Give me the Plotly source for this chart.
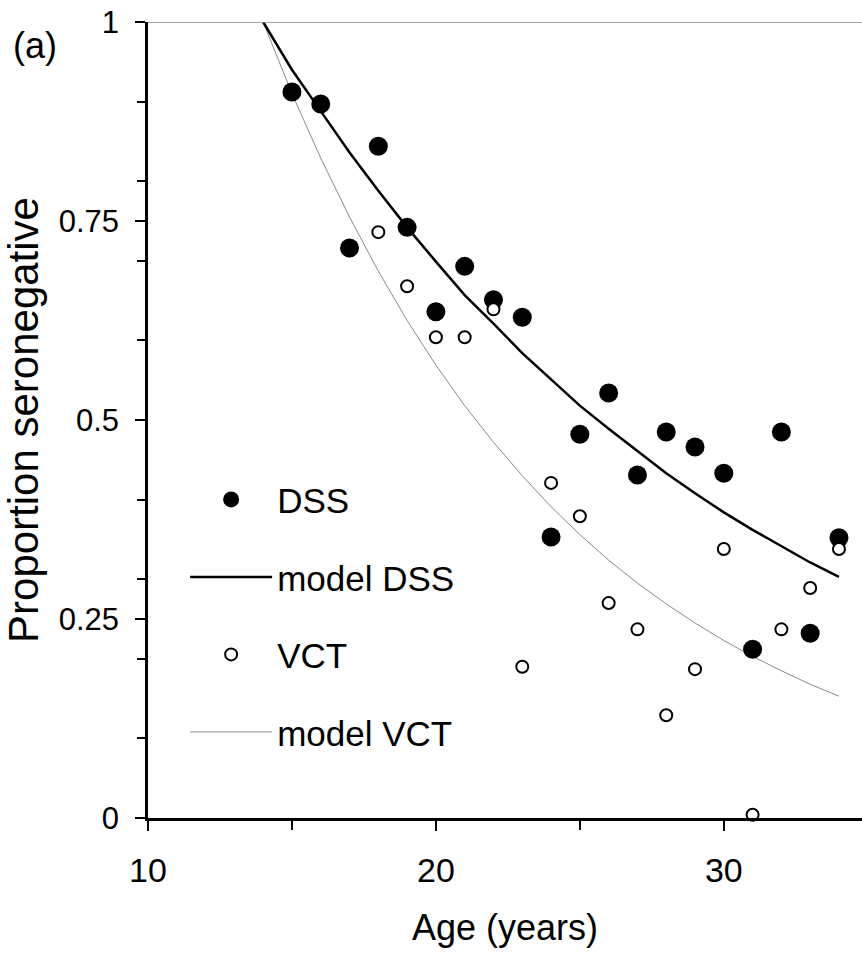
import plotly.graph_objects as go

# Observed data
dss_age = [15, 16, 17, 18, 19, 20, 21, 22, 23, 24, 25, 26, 27, 28, 29, 30, 31, 32, 33, 34]
dss_prop = [0.912, 0.897, 0.716, 0.844, 0.742, 0.636, 0.693, 0.651, 0.629, 0.353,
            0.482, 0.534, 0.431, 0.485, 0.466, 0.433, 0.212, 0.485, 0.232, 0.352]

vct_age = [18, 19, 20, 21, 22, 23, 24, 25, 26, 27, 28, 29, 30, 31, 32, 33, 34]
vct_prop = [0.736, 0.668, 0.604, 0.604, 0.639, 0.190, 0.421, 0.379, 0.270, 0.237,
            0.129, 0.187, 0.338, 0.004, 0.237, 0.289, 0.338]

# Model curves (read at each year)
model_age = [14, 15, 16, 17, 18, 19, 20, 21, 22, 23, 24, 25, 26, 27, 28, 29, 30, 31, 32, 33, 34]
model_dss = [1.0, 0.940, 0.888, 0.836, 0.788, 0.742, 0.699, 0.657, 0.621, 0.584, 0.551,
             0.518, 0.489, 0.461, 0.433, 0.408, 0.384, 0.362, 0.341, 0.321, 0.303]
model_vct = [1.0, 0.910, 0.829, 0.755, 0.687, 0.625, 0.569, 0.518, 0.472, 0.430, 0.391,
             0.356, 0.324, 0.295, 0.269, 0.245, 0.223, 0.203, 0.185, 0.168, 0.153]

FONT = "Liberation Sans, Arial, sans-serif"

fig = go.Figure()
fig.add_trace(go.Scatter(x=model_age, y=model_vct, mode="lines", name="model VCT",
                         line=dict(color="#8a8a8a", width=1), legendrank=4,
                         legendgroup="d"))
fig.add_trace(go.Scatter(x=model_age, y=model_dss, mode="lines", name="model DSS",
                         line=dict(color="black", width=2.5), legendrank=2,
                         legendgroup="b"))
fig.add_trace(go.Scatter(x=dss_age, y=dss_prop, mode="markers", name="DSS",
                         marker=dict(symbol="circle", size=19, color="black"),
                         legendrank=1, legendgroup="a", cliponaxis=False))
fig.add_trace(go.Scatter(x=vct_age, y=vct_prop, mode="markers", name="VCT",
                         marker=dict(symbol="circle", size=12, color="white",
                                     line=dict(color="black", width=2)),
                         legendrank=3, legendgroup="c", cliponaxis=False))

fig.add_shape(type="line", xref="paper", yref="y", x0=0, x1=1, y0=1, y1=1,
              line=dict(color="#8a8a8a", width=1.5))

fig.add_annotation(text="(a)", xref="paper", yref="paper", x=-0.158, y=0.97,
                   xanchor="center", yanchor="middle", showarrow=False,
                   font=dict(size=36, color="black", family=FONT))

fig.update_layout(
    width=862, height=958,
    margin=dict(l=148, r=0, t=22, b=140),
    paper_bgcolor="white", plot_bgcolor="white",
    font=dict(family=FONT, color="black"),
    showlegend=True,
    legend=dict(x=0.052, y=0.437, xanchor="left", yanchor="top",
                font=dict(size=35, family=FONT), traceorder="grouped",
                tracegroupgap=29, itemwidth=82, bgcolor="rgba(0,0,0,0)"),
    xaxis=dict(range=[10, 34.8], tickvals=[10, 20, 30], ticks="outside",
               ticklen=10, tickwidth=2, tickcolor="black",
               minor=dict(dtick=5, tick0=10, ticks="outside", ticklen=9,
                          tickwidth=2, tickcolor="black"),
               showline=True, linecolor="black", linewidth=3,
               showgrid=False, zeroline=False,
               tickfont=dict(size=34, family=FONT), ticklabelstandoff=10,
               title=dict(text="Age (years)", font=dict(size=36, family=FONT),
                          standoff=28)),
    yaxis=dict(range=[0, 1], tickvals=[0, 0.25, 0.5, 0.75, 1],
               ticktext=["0", "0.25", "0.5", "0.75", "1"], ticks="outside",
               ticklen=10, tickwidth=2, tickcolor="black",
               minor=dict(dtick=0.1, tick0=0, ticks="outside", ticklen=8,
                          tickwidth=2, tickcolor="black"),
               showline=True, linecolor="black", linewidth=2.5,
               showgrid=False, zeroline=False,
               tickfont=dict(size=31, family=FONT), ticklabelstandoff=10,
               title=dict(text="Proportion seronegative",
                          font=dict(size=42, family=FONT), standoff=12)),
)

fig.write_html("out.html")
